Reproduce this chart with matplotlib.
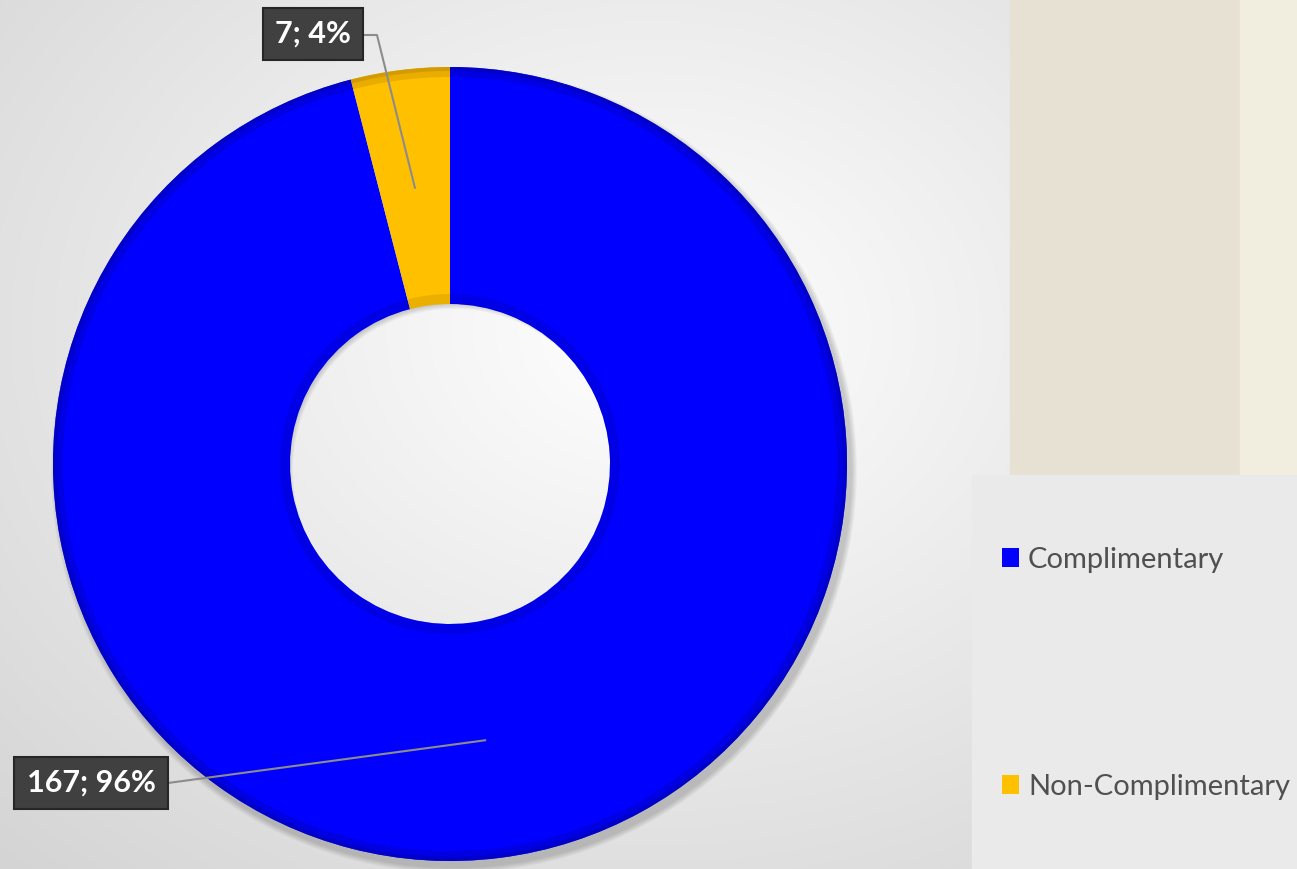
import numpy as np
import matplotlib
matplotlib.use("Agg")
import matplotlib.pyplot as plt
from matplotlib.patches import Rectangle, Wedge

# data
categories = ["Complimentary", "Non-Complimentary"]
counts = [167, 7]
percents = [96, 4]
colors = ["#0000FF", "#FFC000"]

W, H = 1297, 869
fig = plt.figure(figsize=(W / 100, H / 100), dpi=100)
ax = fig.add_axes([0, 0, 1, 1])

# background gradient (white in the middle, grey towards bottom-left)
yy, xx = np.mgrid[0:H, 0:W]
d = np.hypot((xx - 650) / 900.0, (yy - 330) / 700.0)
shade = 1.0 - 0.16 * np.clip(d, 0, 1.2)
bg = np.dstack([shade, shade, shade])
ax.imshow(bg, extent=(0, W, 0, H), aspect="auto", zorder=0)

# beige picture panel top right and grey legend panel
ax.add_patch(Rectangle((1010, H - 475), W - 1010, 475, color="#E6E1D2", zorder=1))
ax.add_patch(Rectangle((1240, H - 475), W - 1240, 475, color="#F2EEDF", zorder=1))
ax.add_patch(Rectangle((972, 0), W - 972, H - 475, color="#EAEAEA", zorder=1))

cx, cy = 450, H - 464
r_out, r_in = 397, 160

# soft shadow behind the ring
for k in range(6):
    ax.add_patch(Wedge((cx + 4, cy - 6), r_out + 6 - k, 0, 360, width=r_out - r_in,
                       color="black", alpha=0.03, lw=0, zorder=2))

wedges, _ = ax.pie(counts, colors=colors, startangle=90, counterclock=False,
                   radius=r_out, center=(cx, cy),
                   wedgeprops=dict(width=r_out - r_in, edgecolor="none", linewidth=0))
for w in wedges:
    w.set_zorder(3)

# bevel-ish darker rims
rim_col = ["#0000B0", "#C08A00"]
for w, rc in zip(wedges, rim_col):
    for rr, ww, a in [(r_out, 10, 0.35), (r_out, 4, 0.5), (r_in + 10, 10, 0.3)]:
        ax.add_patch(Wedge((cx, cy), rr, w.theta1, w.theta2, width=ww,
                           color=rc, alpha=a, lw=0, zorder=4))

ax.set_xlim(0, W)
ax.set_ylim(0, H)
ax.set_aspect("auto")
ax.axis("off")

# data labels with leader lines
label_pos = [(91, H - 783), (313, H - 34)]
r_mid = (r_out + r_in) / 2
for i, w in enumerate(wedges):
    ang = np.deg2rad((w.theta1 + w.theta2) / 2)
    ax_, ay_ = cx + r_mid * np.cos(ang), cy + r_mid * np.sin(ang)
    tx, ty = label_pos[i]
    if i == 0:
        xs, ys = [tx + 77, ax_], [ty, ay_]
    else:
        xs, ys = [tx + 50, tx + 64, ax_], [ty - 1, ty - 1, ay_]
    ax.plot(xs, ys, color="#8C8C8C", lw=1.5, zorder=5)
    ax.text(tx, ty, f"{counts[i]}; {percents[i]}%", color="white", fontsize=22,
            fontweight="bold", family="Lato", ha="center", va="center", zorder=6,
            bbox=dict(boxstyle="square,pad=0.4", fc="#404040", ec="#262626", lw=1.5))

leg = ax.legend(wedges, categories, loc="upper left", bbox_to_anchor=(990 / W, 1 - 535 / H),
                frameon=False, prop=dict(family="Lato", size=21), labelcolor="#505050",
                handlelength=0.6, handleheight=0.6, handletextpad=0.3, labelspacing=6.9,
                borderaxespad=0)
leg.set_zorder(7)

fig.savefig("out.png", dpi=100)
